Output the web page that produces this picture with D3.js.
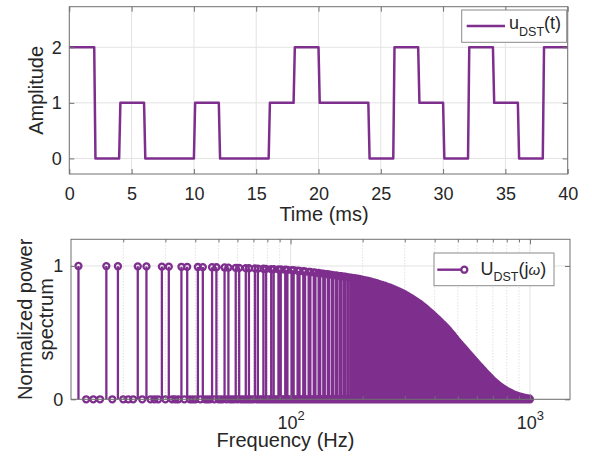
<!DOCTYPE html>
<html><head><meta charset="utf-8">
<script src="https://cdn.jsdelivr.net/npm/d3@7"></script>
<style>
body{margin:0;background:#fff}
svg{display:block}
text{font-family:"Liberation Sans",Arial,Helvetica,sans-serif;fill:#262626}
</style>
</head><body>
<svg id="c" width="592" height="458"></svg>
<script>
// ---------- DATA ----------
// Top: u_DST(t), one level per 2 ms slot
const slotLevels = [2,0,1,0,0,1,0,0,1,2,1,1,0,2,1,0,2,1,0,2];
const slotDuration = 2;      // ms
const transitionTime = 0.1;  // ms, sample step at each level change
const timeLimits = [0, 40];
const ampLimits = [-0.28, 2.73];
const timeTicks = [0,5,10,15,20,25,30,35,40];
const ampTicks = [0,1,2];

// Bottom: normalized power spectrum, 1 Hz harmonic grid
const firstHarmonic = 13;    // Hz
const lastHarmonic = 1000;   // Hz
const harmonicStep = 1;      // Hz
const excitationPeriod = 6;  // excited harmonics: n mod 6 in {1,5}
const excitedResidues = [1,5];
// envelope of the excited lines, read at these frequencies
const envFreq  = [13, 30, 50, 70, 100, 130, 160, 190, 220, 260, 300, 350, 400, 450, 500, 550, 600, 650, 700, 750, 800, 850, 900, 950, 1000];
const envPower = [1.0, 0.995, 0.99, 0.982, 0.97, 0.948, 0.925, 0.905, 0.88, 0.838, 0.787, 0.71, 0.62, 0.53, 0.43, 0.345, 0.268, 0.2, 0.14, 0.095, 0.062, 0.038, 0.022, 0.011, 0.004];
const freqLimits = [12.1, 1470];
const powerLimits = [0, 1.2];
const freqTicks = [100, 1000];
const freqTickBase = ["10", "10"];
const freqTickExp = ["2", "3"];
const minorFreqTicks = [20,30,40,50,60,70,80,90,200,300,400,500,600,700,800,900];
const powerTicks = [0, 1];

// ---------- STYLE ----------
const purple = "#7E2F8E", axisCol = "#717171", gridCol = "#e3e3e3", minorCol = "#c8c8c8";
const svg = d3.select("#c");
const intFmt = d3.format("d");

function styleAxis(g, fs){
  g.attr("font-family", '"Liberation Sans",Arial,sans-serif').attr("font-size", fs || 18);
  g.select(".domain").remove();
  g.selectAll(".tick line").attr("stroke", axisCol).attr("stroke-width", 1);
  g.selectAll(".tick text").attr("fill", "#262626");
}

// ---------- TOP PLOT ----------
const A = {l:69.3, r:567.7, t:6.7, b:174};
const xT = d3.scaleLinear().domain(timeLimits).range([A.l, A.r]);
const yT = d3.scaleLinear().domain(ampLimits).range([A.b, A.t]);

const gTop = svg.append("g");
gTop.selectAll(".vg").data(timeTicks).join("line")
  .attr("x1", d=>xT(d)).attr("x2", d=>xT(d)).attr("y1", A.t).attr("y2", A.b)
  .attr("stroke", gridCol).attr("stroke-width", 1);
gTop.selectAll(".hg").data(ampTicks).join("line")
  .attr("x1", A.l).attr("x2", A.r).attr("y1", d=>yT(d)).attr("y2", d=>yT(d))
  .attr("stroke", gridCol).attr("stroke-width", 1);

const sig = [];
slotLevels.forEach((v, i) => {
  sig.push([i === 0 ? 0 : i*slotDuration + transitionTime, v]);
  sig.push([(i+1)*slotDuration, v]);
});
gTop.append("path").datum(sig)
  .attr("d", d3.line().x(d=>xT(d[0])).y(d=>yT(d[1])))
  .attr("fill", "none").attr("stroke", purple).attr("stroke-width", 2.5)
  .attr("stroke-linejoin", "round");

styleAxis(gTop.append("g").attr("transform", `translate(0,${A.b})`)
  .call(d3.axisBottom(xT).tickValues(timeTicks).tickFormat(intFmt).tickSizeInner(-5).tickSizeOuter(0).tickPadding(13)));
styleAxis(gTop.append("g").attr("transform", `translate(${A.l},0)`)
  .call(d3.axisLeft(yT).tickValues(ampTicks).tickFormat(intFmt).tickSizeInner(-5).tickSizeOuter(0).tickPadding(7.5)));
styleAxis(gTop.append("g").attr("transform", `translate(0,${A.t})`)
  .call(d3.axisTop(xT).tickValues(timeTicks).tickSizeInner(-5).tickSizeOuter(0).tickFormat("")));
styleAxis(gTop.append("g").attr("transform", `translate(${A.r},0)`)
  .call(d3.axisRight(yT).tickValues(ampTicks).tickSizeInner(-5).tickSizeOuter(0).tickFormat("")));
gTop.append("rect").attr("x", A.l).attr("y", A.t).attr("width", A.r-A.l).attr("height", A.b-A.t)
  .attr("fill", "none").attr("stroke", axisCol).attr("stroke-width", 1);

gTop.append("text").attr("x", 324).attr("y", 220.5).attr("text-anchor", "middle")
  .attr("font-size", 20).text("Time (ms)");
gTop.append("text").attr("transform", `translate(42.5,${(A.t+A.b)/2}) rotate(-90)`)
  .attr("text-anchor", "middle").attr("font-size", 20).text("Amplitude");

const L1 = gTop.append("g");
L1.append("rect").attr("x", 461.7).attr("y", 10).attr("width", 105).attr("height", 32.3)
  .attr("fill", "#fff").attr("stroke", "#8a8a8a").attr("stroke-width", 1);
L1.append("line").attr("x1", 466.7).attr("x2", 505).attr("y1", 26).attr("y2", 26)
  .attr("stroke", purple).attr("stroke-width", 2.5);
const lt1 = L1.append("text").attr("x", 509).attr("y", 29.3).attr("font-size", 18);
lt1.append("tspan").text("u");
lt1.append("tspan").attr("font-size", 12.5).attr("dy", 6.8).text("DST");
lt1.append("tspan").attr("dy", -6.8).text("(t)");

// ---------- BOTTOM PLOT ----------
const B = {l:71, r:570, t:239.3, b:399.3};
const xB = d3.scaleLog().domain(freqLimits).range([B.l, B.r]);
const yB = d3.scaleLinear().domain(powerLimits).range([B.b, B.t]);
const env = d3.scaleLinear().domain(envFreq).range(envPower).clamp(true);

const gB = svg.append("g");
gB.selectAll(".mg").data(minorFreqTicks).join("line")
  .attr("x1", d=>xB(d)).attr("x2", d=>xB(d)).attr("y1", B.t).attr("y2", B.b)
  .attr("stroke", minorCol).attr("stroke-width", 0.8).attr("stroke-dasharray", "1,2");
gB.selectAll(".Mg").data(freqTicks).join("line")
  .attr("x1", d=>xB(d)).attr("x2", d=>xB(d)).attr("y1", B.t).attr("y2", B.b)
  .attr("stroke", gridCol).attr("stroke-width", 1);
gB.selectAll(".hg").data(powerTicks).join("line")
  .attr("x1", B.l).attr("x2", B.r).attr("y1", d=>yB(d)).attr("y2", d=>yB(d))
  .attr("stroke", gridCol).attr("stroke-width", 1);

const stems = [];
for (let f = firstHarmonic; f <= lastHarmonic; f += harmonicStep) {
  const excited = excitedResidues.includes(f % excitationPeriod);
  stems.push({f, p: excited ? env(f) : 0});
}
// all stems as one path (union coverage, no anti-alias seams)
const stemPath = d3.path();
stems.filter(d => d.p > 0).forEach(d => {
  stemPath.moveTo(xB(d.f), yB(0));
  stemPath.lineTo(xB(d.f), yB(d.p));
});
gB.append("path").attr("d", stemPath.toString())
  .attr("fill", "none").attr("stroke", purple).attr("stroke-width", 2.3);
// markers as one path
const markPath = d3.path();
stems.forEach(d => {
  const cx = xB(d.f), cy = yB(d.p);
  markPath.moveTo(cx + 3, cy);
  markPath.arc(cx, cy, 3, 0, 2*Math.PI);
});
gB.append("path").attr("d", markPath.toString())
  .attr("fill", "none").attr("stroke", purple).attr("stroke-width", 2.3);

const gxb = gB.append("g").attr("transform", `translate(0,${B.b})`)
  .call(d3.axisBottom(xB).tickValues(freqTicks).tickSizeInner(-5).tickSizeOuter(0));
styleAxis(gxb);
gxb.selectAll(".tick text").each(function(d, i){
  const t = d3.select(this);
  t.text(null).attr("y", 29.5).attr("dy", null);
  t.append("tspan").text(freqTickBase[i]);
  t.append("tspan").attr("dy", -9).attr("font-size", 13).text(freqTickExp[i]);
});
styleAxis(gB.append("g").attr("transform", `translate(0,${B.b})`)
  .call(d3.axisBottom(xB).tickValues(minorFreqTicks).tickSizeInner(-3).tickSizeOuter(0).tickFormat("")));
styleAxis(gB.append("g").attr("transform", `translate(0,${B.t})`)
  .call(d3.axisTop(xB).tickValues(freqTicks).tickSizeInner(-5).tickSizeOuter(0).tickFormat("")));
styleAxis(gB.append("g").attr("transform", `translate(0,${B.t})`)
  .call(d3.axisTop(xB).tickValues(minorFreqTicks).tickSizeInner(-3).tickSizeOuter(0).tickFormat("")));
styleAxis(gB.append("g").attr("transform", `translate(${B.l},0)`)
  .call(d3.axisLeft(yB).tickValues(powerTicks).tickFormat(intFmt).tickSizeInner(-5).tickSizeOuter(0).tickPadding(7.7)));
styleAxis(gB.append("g").attr("transform", `translate(${B.r},0)`)
  .call(d3.axisRight(yB).tickValues(powerTicks).tickSizeInner(-5).tickSizeOuter(0).tickFormat("")));
gB.append("rect").attr("x", B.l).attr("y", B.t).attr("width", B.r-B.l).attr("height", B.b-B.t)
  .attr("fill", "none").attr("stroke", axisCol).attr("stroke-width", 1);

gB.append("text").attr("x", 285.5).attr("y", 447).attr("text-anchor", "middle")
  .attr("font-size", 20).text("Frequency (Hz)");
gB.append("text").attr("transform", `translate(31.5,${(B.t+B.b)/2}) rotate(-90)`)
  .attr("text-anchor", "middle").attr("font-size", 20).text("Normalized power");
gB.append("text").attr("transform", `translate(53,${(B.t+B.b)/2}) rotate(-90)`)
  .attr("text-anchor", "middle").attr("font-size", 20).text("spectrum");

const L2 = gB.append("g");
L2.append("rect").attr("x", 434).attr("y", 253).attr("width", 120).attr("height", 32.7)
  .attr("fill", "#fff").attr("stroke", "#8a8a8a").attr("stroke-width", 1);
L2.append("line").attr("x1", 437.3).attr("x2", 461.3).attr("y1", 269.7).attr("y2", 269.7)
  .attr("stroke", purple).attr("stroke-width", 2.4);
L2.append("circle").attr("cx", 464.3).attr("cy", 269.7).attr("r", 3)
  .attr("fill", "none").attr("stroke", purple).attr("stroke-width", 2.3);
const lt2 = L2.append("text").attr("x", 480.5).attr("y", 274.7).attr("font-size", 18);
lt2.append("tspan").text("U");
lt2.append("tspan").attr("font-size", 12.5).attr("dy", 6).text("DST");
lt2.append("tspan").attr("dy", -6).text("(j");
lt2.append("tspan").attr("font-size", 15).attr("font-style", "italic").text("ω");
lt2.append("tspan").text(")");
</script>
</body></html>
